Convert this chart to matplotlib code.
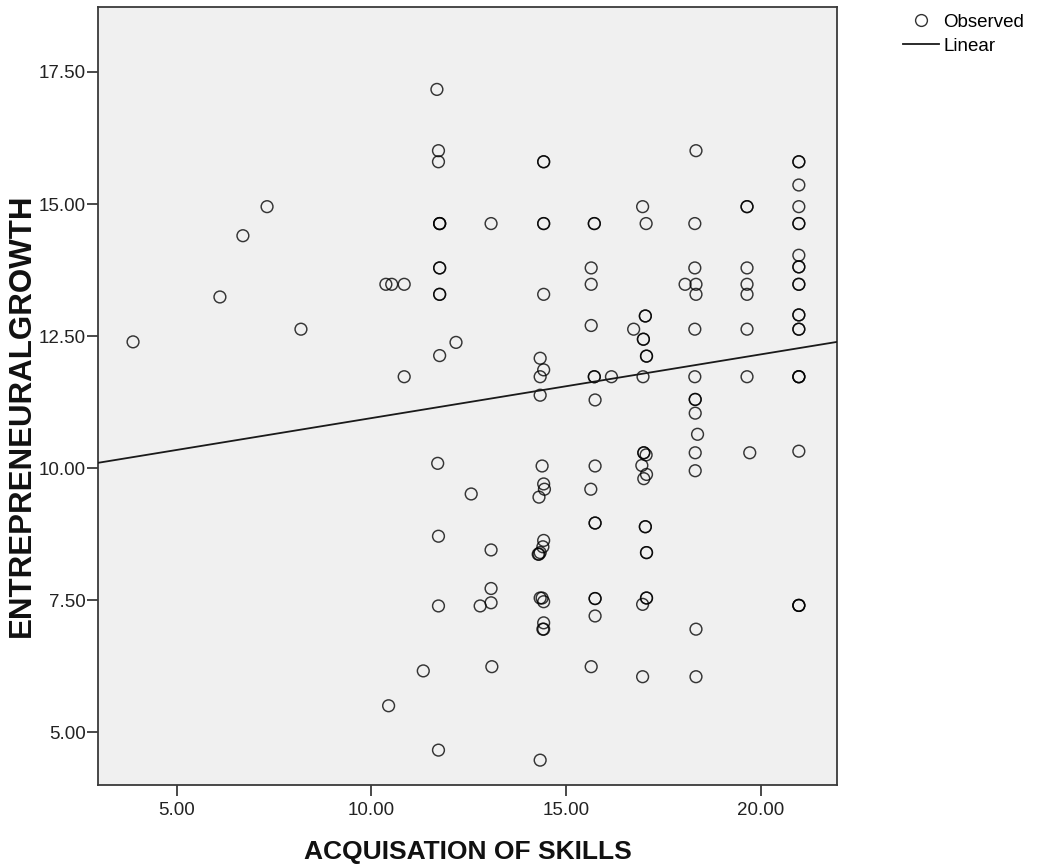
import numpy as np
import matplotlib
matplotlib.use("Agg")
import matplotlib.pyplot as plt
from matplotlib.lines import Line2D

plt.rcParams['font.family'] = ['Liberation Sans', 'DejaVu Sans']

# Observed scores: acquisition of skills (x) vs entrepreneurial growth (y)
skills = [
    3.88, 6.11, 6.70, 7.32, 8.19,
    10.37, 10.52, 10.84, 10.84, 10.44, 11.33,
    12.17, 12.56, 12.79,
    # column near 11.7
    11.68, 11.72, 11.72, 11.75, 11.75, 11.75, 11.75, 11.75, 11.75, 11.75,
    11.75, 11.70, 11.72, 11.72, 11.72,
    # column near 13.1
    13.07, 13.07, 13.07, 13.07, 13.09,
    # column near 14.4
    14.42, 14.42, 14.42, 14.42, 14.42, 14.33, 14.42, 14.33, 14.33, 14.38,
    14.42, 14.44, 14.30, 14.42, 14.40, 14.33, 14.30, 14.28, 14.38, 14.33,
    14.42, 14.42, 14.40, 14.42, 14.33,
    # column near 15.7
    15.72, 15.72, 15.64, 15.64, 15.64, 15.72, 15.72, 15.74, 15.74, 15.63,
    15.74, 15.74, 15.74, 15.74, 15.74, 15.64,
    16.16, 16.73,
    # column near 17.0
    16.96, 17.05, 17.03, 17.03, 16.98, 16.98, 17.06, 17.06, 16.97, 16.99,
    16.99, 17.05, 16.94, 17.06, 16.99, 17.03, 17.03, 17.06, 17.06, 17.06,
    17.06, 16.96, 16.96,
    18.05,
    # column near 18.3
    18.33, 18.30, 18.30, 18.33, 18.33, 18.30, 18.30, 18.31, 18.31, 18.31,
    18.37, 18.31, 18.31, 18.33, 18.33,
    # column near 19.6
    19.64, 19.64, 19.64, 19.64, 19.64, 19.64, 19.64, 19.71,
    # column near 21.0
    20.97, 20.97, 20.97, 20.97, 20.97, 20.97, 20.97, 20.97, 20.97, 20.97,
    20.97, 20.97, 20.97, 20.97, 20.97, 20.97, 20.97, 20.97, 20.97, 20.97,
    20.97, 20.97,
]

growth = [
    12.39, 13.24, 14.40, 14.95, 12.63,
    13.48, 13.48, 13.48, 11.73, 5.50, 6.16,
    12.38, 9.51, 7.39,
    17.17, 16.01, 15.80, 14.63, 14.63, 14.63, 13.79, 13.79, 13.29, 13.29,
    12.13, 10.09, 8.71, 7.39, 4.66,
    14.63, 8.45, 7.72, 7.45, 6.24,
    15.80, 15.80, 14.63, 14.63, 13.29, 12.08, 11.86, 11.73, 11.38, 10.04,
    9.70, 9.60, 9.45, 8.63, 8.51, 8.40, 8.37, 8.37, 7.54, 7.54,
    7.47, 7.07, 6.95, 6.95, 4.47,
    14.63, 14.63, 13.79, 13.48, 12.70, 11.73, 11.73, 11.29, 10.04, 9.60,
    8.96, 8.96, 7.53, 7.53, 7.20, 6.24,
    11.73, 12.63,
    14.95, 14.63, 12.88, 12.88, 12.44, 12.44, 12.12, 12.12, 11.73, 10.29,
    10.29, 10.25, 10.05, 9.88, 9.80, 8.89, 8.89, 8.40, 8.40, 7.54,
    7.54, 7.42, 6.05,
    13.48,
    16.01, 14.63, 13.79, 13.48, 13.29, 12.63, 11.73, 11.30, 11.30, 11.04,
    10.64, 10.29, 9.95, 6.95, 6.05,
    14.95, 14.95, 13.79, 13.48, 13.29, 12.63, 11.73, 10.29,
    15.80, 15.80, 15.36, 14.95, 14.63, 14.63, 14.03, 13.81, 13.81, 13.48,
    13.48, 12.90, 12.90, 12.63, 12.63, 11.73, 11.73, 11.73, 10.32, 7.40,
    7.40, 7.40,
]

# Linear fit coefficients of the full sample (growth = a + b * skills)
fit_intercept = 9.74
fit_slope = 0.1207

x_ticks = [5.0, 10.0, 15.0, 20.0]
y_ticks = [5.0, 7.5, 10.0, 12.5, 15.0, 17.5]

x = np.array(skills)
y = np.array(growth)

fig = plt.figure(figsize=(10.39, 8.67), dpi=100)
ax = fig.add_axes([0.0943, 0.0946, 0.7113, 0.8973])
ax.set_facecolor('#f0f0f0')

xlim = (2.98, 21.95)
ylim = (4.0, 18.73)
ax.set_xlim(*xlim)
ax.set_ylim(*ylim)

ax.scatter(x, y, s=72, facecolors='none', edgecolors=(0, 0, 0, 0.78),
           linewidths=1.05, zorder=3)
xl = np.array(xlim)
ax.plot(xl, fit_intercept + fit_slope * xl, color='#1a1a1a', lw=1.3,
        zorder=4)

for sp in ax.spines.values():
    sp.set_color('#3a3a3a')
    sp.set_linewidth(1.3)

ax.set_xticks(x_ticks)
ax.set_yticks(y_ticks)
ax.set_xticklabels([f"{v:.2f}" for v in x_ticks])
ax.set_yticklabels([f"{v:.2f}" for v in y_ticks])
ax.tick_params(axis='both', direction='out', length=8, width=1.3,
               color='#3a3a3a', labelsize=13.5, labelcolor='#222222')
ax.tick_params(axis='x', pad=4)
ax.tick_params(axis='y', pad=1)

ax.set_xlabel('ACQUISATION OF SKILLS', fontsize=19, fontweight='bold',
              color='#111111')
ax.xaxis.set_label_coords(0.5, -0.071)
ax.set_ylabel('ENTREPRENEURALGROWTH', fontsize=22.5, fontweight='bold',
              color='#111111')
ax.yaxis.set_label_coords(-0.083, 0.475)

handles = [
    Line2D([], [], marker='o', linestyle='none', markersize=8.5,
           markerfacecolor='none', markeredgecolor='#333333',
           markeredgewidth=1.0),
    Line2D([], [], color='#1a1a1a', lw=1.3),
]
fig.legend(handles, ['Observed', 'Linear'], loc='upper left',
           bbox_to_anchor=(0.862, 0.993), frameon=False, fontsize=13.5,
           handlelength=1.9, handletextpad=0.25, labelspacing=0.38,
           borderaxespad=0.0)

fig.savefig('out.png', dpi=100)
